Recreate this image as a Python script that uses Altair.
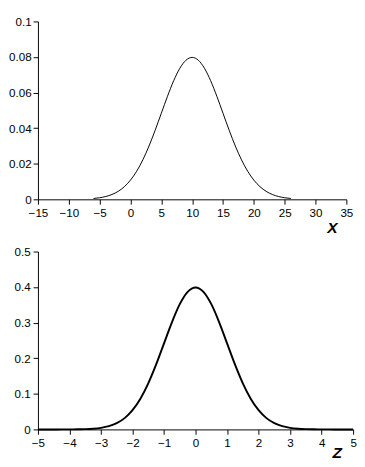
import altair as alt
import pandas as pd

# Top panel: density of X
x_vals = [-6, -5, -4, -3, -2, -1, 0, 1, 2, 3, 4, 5, 6, 7, 8, 9, 10,
          11, 12, 13, 14, 15, 16, 17, 18, 19, 20, 21, 22, 23, 24, 25, 26]
fx_vals = [0.000477, 0.000886, 0.001583, 0.002717, 0.004479, 0.007095, 0.010798,
           0.015790, 0.022184, 0.029945, 0.038837, 0.048394, 0.057938, 0.066645,
           0.073654, 0.078209, 0.079788, 0.078209, 0.073654, 0.066645, 0.057938,
           0.048394, 0.038837, 0.029945, 0.022184, 0.015790, 0.010798, 0.007095,
           0.004479, 0.002717, 0.001583, 0.000886, 0.000477]

# Bottom panel: density of Z
z_vals = [-5, -4.75, -4.5, -4.25, -4, -3.75, -3.5, -3.25, -3, -2.75, -2.5, -2.25,
          -2, -1.75, -1.5, -1.25, -1, -0.75, -0.5, -0.25, 0, 0.25, 0.5, 0.75, 1,
          1.25, 1.5, 1.75, 2, 2.25, 2.5, 2.75, 3, 3.25, 3.5, 3.75, 4, 4.25, 4.5,
          4.75, 5]
fz_half = [0.0000015, 0.000005, 0.000016, 0.0000477, 0.000134, 0.000353, 0.000873,
           0.002029, 0.004432, 0.009094, 0.017528, 0.031740, 0.053991, 0.086277,
           0.129518, 0.182649, 0.241971, 0.301137, 0.352065, 0.386668]
fz_vals = fz_half + [0.398942] + fz_half[::-1]

x_ticks = [-15, -10, -5, 0, 5, 10, 15, 20, 25, 30, 35]
fx_ticks = [0, 0.02, 0.04, 0.06, 0.08, 0.1]
z_ticks = [-5, -4, -3, -2, -1, 0, 1, 2, 3, 4, 5]
fz_ticks = [0, 0.1, 0.2, 0.3, 0.4, 0.5]

top_df = pd.DataFrame({"x": x_vals, "f": fx_vals})
bot_df = pd.DataFrame({"z": z_vals, "f": fz_vals})

FONT = "Liberation Sans"
H = 184

ax_common = dict(grid=False, domainColor="black", tickColor="black",
                 labelColor="black", labelFont=FONT, labelFontSize=12,
                 tickSize=5, domainWidth=1, tickWidth=1, labelFlush=False,
                 labelOverlap=False)
title_common = dict(titleFont=FONT, titleFontSize=16, titleFontWeight="bold",
                    titleFontStyle="italic", titleColor="black",
                    titleAlign="center", titleBaseline="alphabetic")

top = alt.Chart(top_df).mark_line(color="black", strokeWidth=1,
                                  interpolate="monotone").encode(
    x=alt.X("x:Q", scale=alt.Scale(domain=[-15, 35], nice=False, zero=False),
            axis=alt.Axis(values=x_ticks, format="~g", title="X",
                          titleX=304, titleY=34, labelPadding=4,
                          **title_common, **ax_common)),
    y=alt.Y("f:Q", scale=alt.Scale(domain=[0, 0.1], nice=False),
            axis=alt.Axis(values=fx_ticks, format="~g", title=None,
                          labelPadding=2, **ax_common)),
).properties(width=319, height=H)

bot = alt.Chart(bot_df).mark_line(color="black", strokeWidth=2,
                                  interpolate="monotone").encode(
    x=alt.X("z:Q", scale=alt.Scale(domain=[-5, 5], nice=False, zero=False),
            axis=alt.Axis(values=z_ticks, format="~g", title="Z",
                          titleX=309, titleY=29, labelPadding=4,
                          **title_common, **ax_common)),
    y=alt.Y("f:Q", scale=alt.Scale(domain=[0, 0.5], nice=False),
            axis=alt.Axis(values=fz_ticks, format="~g", title=None,
                          labelPadding=3, **ax_common)),
).properties(width=326, height=H)

chart = alt.concat(top, bot, columns=1, spacing=11, align="none").properties(
    padding=0, background="white"
).configure_view(stroke=None)

chart.save("out.html", embed_options={"renderer": "svg", "actions": False})
